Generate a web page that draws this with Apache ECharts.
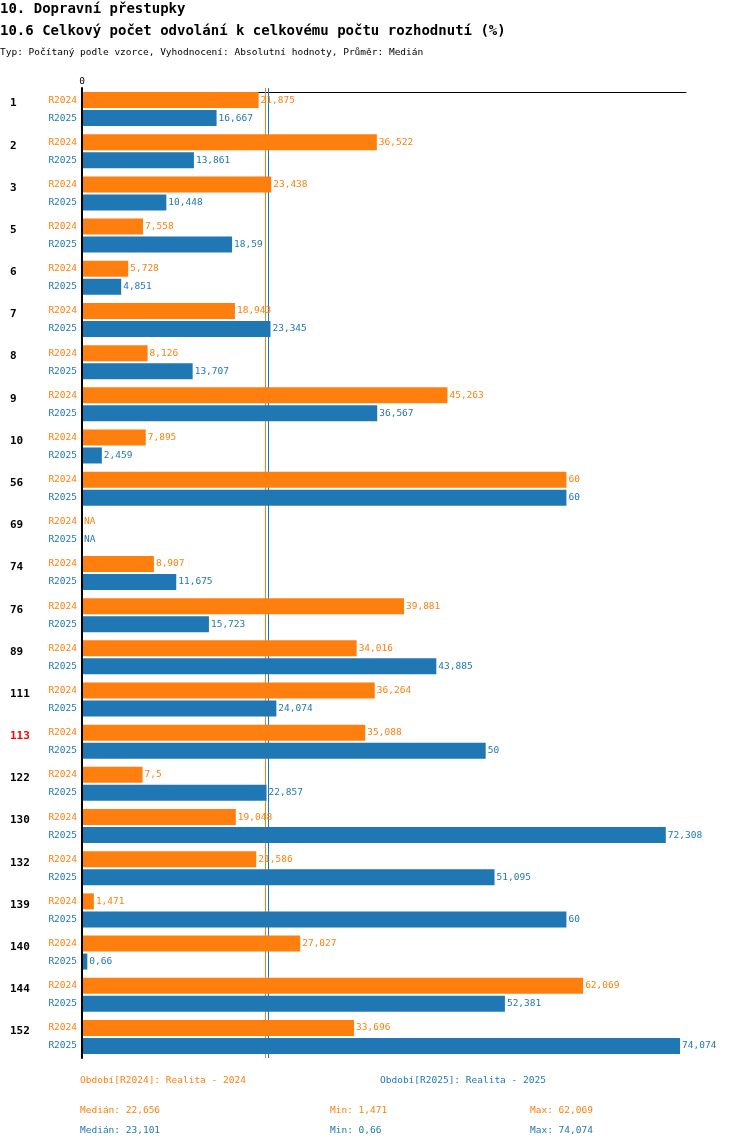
<!DOCTYPE html>
<html><head><meta charset="utf-8">
<script src="https://cdn.jsdelivr.net/npm/echarts@6/dist/echarts.min.js"></script>
<style>html,body{margin:0;padding:0;background:#fff}#c{width:750px;height:1148px}</style>
</head><body><div id="c"></div>
<script>
const categories = ['1','2','3','5','6','7','8','9','10','56','69','74','76','89','111','113','122','130','132','139','140','144','152'];
const r2024 = [21.875,36.522,23.438,7.558,5.728,18.943,8.126,45.263,7.895,60,null,8.907,39.881,34.016,36.264,35.088,7.5,19.048,21.586,1.471,27.027,62.069,33.696];
const r2025 = [16.667,13.861,10.448,18.59,4.851,23.345,13.707,36.567,2.459,60,null,11.675,15.723,43.885,24.074,50,22.857,72.308,51.095,60,0.66,52.381,74.074];
const seriesNames = ['R2024','R2025'];
const legendTexts = ['Období[R2024]: Realita - 2024','Období[R2025]: Realita - 2025'];
const statsR2024 = ['Medián: 22,656','Min: 1,471','Max: 62,069'];
const statsR2025 = ['Medián: 23,101','Min: 0,66','Max: 74,074'];
const highlighted = '113';

const ORANGE = '#ff7f0e', BLUE = '#1f77b4';
const FONT = '"DejaVu Sans Mono", monospace';
const fmt = v => String(v).replace('.', ',');
function median(arr) {
  const s = arr.filter(v => v != null).sort((a, b) => a - b);
  const n = s.length;
  return n % 2 ? s[(n - 1) / 2] : (s[n / 2 - 1] + s[n / 2]) / 2;
}

function group(name, values, color, stack) {
  return [
    { name: name + '-tag', type: 'bar', stack, barWidth: 16, silent: true, z: 10,
      data: values.map(() => 0), itemStyle: { color: 'transparent' },
      label: { show: true, position: 'left', distance: 5, formatter: name, color, fontSize: 9.5, fontFamily: FONT } },
    { name: name + '-na', type: 'bar', stack, barWidth: 16, silent: true, z: 10,
      data: values.map(v => v == null ? 0 : null), itemStyle: { color: 'transparent' },
      label: { show: true, position: 'right', distance: 2, formatter: 'NA', color, fontSize: 9.5, fontFamily: FONT } },
    { name, type: 'bar', stack, barWidth: 16, barGap: '12.5%', data: values, color, z: 10,
      itemStyle: { color },
      label: { show: true, position: 'right', distance: 2, color, fontSize: 9.5, fontFamily: FONT,
        formatter: p => fmt(p.value) }
    },
    { name: name + '-median', type: 'line', data: [], z: 1, silent: true, color,
      markLine: { silent: true, z: 1, symbol: ['none','none'], label: { show: false },
        lineStyle: { color, width: 1, type: 'solid', opacity: 1 },
        data: [{ xAxis: median(values) }] } }
  ];
}

const T = (text, left, top, size, weight, color) =>
  ({ text, left, top, padding: 0, textStyle: { fontFamily: FONT, fontSize: size, fontWeight: weight, color } });

const chart = echarts.init(document.getElementById('c'), null, { renderer: 'canvas' });
chart.setOption({
  animation: false,
  backgroundColor: '#fff',
  textStyle: { fontFamily: FONT },
  title: [
    T('10. Dopravní přestupky', 0, 2, 14, 'bold', '#000'),
    T('10.6 Celkový počet odvolání k celkovému počtu rozhodnutí (%)', 0, 24, 14, 'bold', '#000'),
    T('Typ: Počítaný podle vzorce, Vyhodnocení: Absolutní hodnoty, Průměr: Medián', 0, 48, 9.5, 'normal', '#000'),
    T(legendTexts[0], 80, 1076, 9.5, 'normal', ORANGE),
    T(legendTexts[1], 380, 1076, 9.5, 'normal', BLUE),
    T(statsR2024[0], 80, 1106, 9.5, 'normal', ORANGE),
    T(statsR2024[1], 330, 1106, 9.5, 'normal', ORANGE),
    T(statsR2024[2], 530, 1106, 9.5, 'normal', ORANGE),
    T(statsR2025[0], 80, 1126, 9.5, 'normal', BLUE),
    T(statsR2025[1], 330, 1126, 9.5, 'normal', BLUE),
    T(statsR2025[2], 530, 1126, 9.5, 'normal', BLUE)
  ],
  grid: { left: 82, right: 64, top: 88, height: 970, containLabel: false },
  xAxis: {
    type: 'value', position: 'top', min: 0, max: 74.81, offset: -4,
    axisLine: { show: true, lineStyle: { color: '#000', width: 1 } },
    axisTick: { show: false }, splitLine: { show: false },
    axisLabel: { show: true, margin: 5, fontSize: 9.5, fontFamily: FONT, color: '#000', formatter: v => v === 0 ? '0' : '' }
  },
  yAxis: {
    type: 'category', inverse: true, data: categories, z: 12,
    axisLine: { show: true, lineStyle: { color: '#000', width: 2 } },
    axisTick: { show: false },
    axisLabel: { align: 'left', verticalAlign: 'bottom', margin: 72, fontSize: 11, fontWeight: 'bold', fontFamily: FONT,
      color: v => v === highlighted ? '#ff0000' : '#000' }
  },
  series: [
    ...group(seriesNames[0], r2024, ORANGE, 'a'),
    ...group(seriesNames[1], r2025, BLUE, 'b')
  ]
});
</script></body></html>
